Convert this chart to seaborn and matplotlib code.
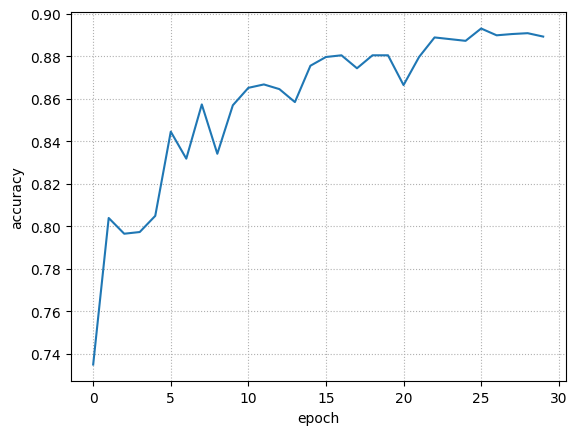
import pandas as pd
import matplotlib
matplotlib.use("Agg")
import matplotlib.pyplot as plt
import seaborn as sns

# Accuracy per epoch
epochs = list(range(30))
accuracy = [0.7350, 0.8039, 0.7965, 0.7973, 0.8049, 0.8445, 0.8318, 0.8573,
            0.8341, 0.8569, 0.8651, 0.8667, 0.8645, 0.8584, 0.8755, 0.8796,
            0.8804, 0.8743, 0.8804, 0.8804, 0.8664, 0.8796, 0.8888, 0.8880,
            0.8872, 0.8930, 0.8898, 0.8904, 0.8908, 0.8892]

df = pd.DataFrame({'epoch': epochs, 'accuracy': accuracy})

fig, ax = plt.subplots(figsize=(5.77, 4.35), dpi=100)
fig.subplots_adjust(left=0.1225, right=0.9804, top=0.9708, bottom=0.1211)

sns.lineplot(x='epoch', y='accuracy', data=df, ax=ax, color='#1f77b4')

ax.grid(True, linestyle=':')
ax.set_xlabel('epoch')
ax.set_ylabel('accuracy')

plt.savefig("out.png", dpi=100)
